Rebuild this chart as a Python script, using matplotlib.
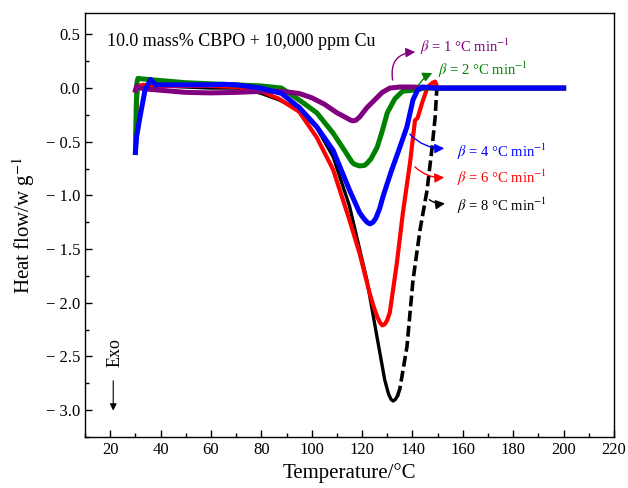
import numpy as np
import matplotlib
matplotlib.use("Agg")
import matplotlib.pyplot as plt
from matplotlib.ticker import MultipleLocator, FuncFormatter

plt.rcParams['font.family'] = ['Liberation Serif', 'DejaVu Serif']
plt.rcParams['mathtext.fontset'] = 'stix'

# heating rate 1 C/min
t1 = [30, 30.5, 32, 35, 40, 50, 60, 70, 80, 88, 95, 100, 105, 110, 114, 115.5,
      116.5, 117.5, 119, 122, 125, 128, 131, 135, 140, 150, 160, 170, 180, 190, 200]
h1 = [-0.02, 0.02, 0.0, -0.01, -0.02, -0.04, -0.045, -0.04, -0.03, -0.03, -0.05,
      -0.09, -0.15, -0.23, -0.28, -0.30, -0.305, -0.30, -0.27, -0.18, -0.11, -0.04,
      0.0, 0.01, 0.01, 0.0, 0.0, 0.0, 0.0, 0.0, 0.0]

# 2 C/min
t2 = [30, 30.3, 30.6, 31, 33, 40, 50, 60, 70, 80, 88, 95, 102, 108.5, 113, 116,
      117, 119, 121, 122, 123.5, 126, 128, 130, 133, 136, 140, 145, 150, 160, 170,
      180, 190, 200]
h2 = [-0.6, -0.2, 0.05, 0.09, 0.085, 0.07, 0.05, 0.04, 0.03, 0.02, 0.0, -0.11,
      -0.23, -0.42, -0.58, -0.69, -0.71, -0.725, -0.72, -0.70, -0.66, -0.55, -0.40,
      -0.23, -0.10, -0.03, -0.02, 0.0, 0.0, 0.0, 0.0, 0.0, 0.0, 0.0]

# 4 C/min
t4 = [30, 30.5, 31.8, 33.8, 36, 38, 40, 50, 60, 65, 70, 80, 88, 95, 102, 108.5,
      115, 119, 120.5, 122, 123.1, 124.3, 125.5, 127, 128.3, 131.5, 135, 137.8,
      140.2, 142, 144, 150, 160, 170, 180, 190, 200]
h4 = [-0.6, -0.45, -0.27, -0.02, 0.08, 0.03, 0.03, 0.03, 0.03, 0.035, 0.03, 0.0,
      -0.05, -0.18, -0.36, -0.58, -0.95, -1.16, -1.21, -1.25, -1.265, -1.25, -1.21,
      -1.12, -1.01, -0.78, -0.55, -0.36, -0.11, -0.02, 0.01, 0.0, 0.0, 0.0, 0.0,
      0.0, 0.0]

# 6 C/min
t6 = [30, 30.5, 31, 33, 40, 50, 60, 70, 80, 87, 95, 102, 108.5, 115, 119, 123,
      124.5, 126, 127, 128, 129, 130, 131, 133.8, 136.2, 139, 141, 142, 143.8,
      146, 148, 149, 150, 160, 170, 180, 190, 200]
h6 = [-0.6, -0.15, 0.02, 0.03, 0.02, 0.02, 0.02, 0.01, -0.03, -0.10, -0.22,
      -0.46, -0.76, -1.23, -1.54, -1.91, -2.03, -2.13, -2.18, -2.21, -2.20, -2.16,
      -2.09, -1.63, -1.16, -0.70, -0.30, -0.28, -0.14, 0.01, 0.05, 0.06, 0.0, 0.0,
      0.0, 0.0, 0.0, 0.0]

# 8 C/min
t8 = [30, 30.5, 31, 33, 40, 50, 60, 70, 75, 80, 87, 95, 102, 108.5, 115, 122,
      126, 129, 130.5, 131.5, 132.3, 133.2, 134, 135, 137.8, 140.2, 143, 145.8,
      147.8, 149, 149.7, 151, 160, 170, 180, 190, 200]
h8 = [-0.45, -0.1, 0.02, 0.02, 0.02, 0.01, 0.0, 0.0, -0.02, -0.05, -0.11, -0.20,
      -0.37, -0.64, -1.10, -1.80, -2.33, -2.72, -2.85, -2.90, -2.915, -2.90, -2.87,
      -2.80, -2.41, -1.79, -1.32, -0.95, -0.55, -0.27, 0.01, 0.0, 0.0, 0.0, 0.0,
      0.0, 0.0]

rates = [1, 2, 4, 6, 8]
colors = {1: '#800080', 2: '#008000', 4: '#0000FF', 6: '#FF0000', 8: '#000000'}

fig = plt.figure(figsize=(6.28, 4.88), dpi=100)
ax = fig.add_axes([0.1354, 0.1045, 0.8423, 0.869])

# black: solid down to the minimum, dashed on the steep return
k = t8.index(134)
ax.plot(t8[:k + 1], h8[:k + 1], color=colors[8], lw=2.4, zorder=2)
ax.plot(t8[k:], h8[k:], color=colors[8], lw=2.6, ls=(0, (3, 1.2)), zorder=2)
ax.plot(t6, h6, color=colors[6], lw=3.0, zorder=3)
ax.plot(t2, h2, color=colors[2], lw=3.6, zorder=4)
ax.plot(t1, h1, color=colors[1], lw=3.6, zorder=5)
ax.plot(t4, h4, color=colors[4], lw=3.6, zorder=6)

ax.set_xlim(10, 220)
ax.set_ylim(-3.25, 0.7)
ax.xaxis.set_major_locator(MultipleLocator(20))
ax.xaxis.set_minor_locator(MultipleLocator(10))
ax.yaxis.set_major_locator(MultipleLocator(0.5))
ax.yaxis.set_minor_locator(MultipleLocator(0.25))


def yfmt(v, pos):
    if v < -1e-9:
        return "\u2212 %.1f" % abs(v)
    return "%.1f" % abs(v)


ax.yaxis.set_major_formatter(FuncFormatter(yfmt))
ax.tick_params(which='both', direction='in', top=False, right=False,
               labelsize=12, width=1.0)
ax.tick_params(which='major', length=5)
ax.tick_params(which='minor', length=3)
for s in ax.spines.values():
    s.set_linewidth(1.0)

ax.set_xlabel("Temperature/\u00b0C", fontsize=15, labelpad=4)
ax.set_ylabel("Heat flow/w g$^{-1}$", fontsize=15, labelpad=6)

ax.text(18.7, 0.43, "10.0 mass% CBPO + 10,000 ppm Cu", fontsize=13,
        va='center', ha='left')

# labels with arrows: (text x, text y, arrow start, arrow end, curvature)
labels = {
    1: (143.0, 0.383, (132.3, 0.05), (142.2, 0.337), -0.6),
    2: (150.1, 0.169, (141.8, 0.0), (148.9, 0.15), -0.2),
    4: (157.7, -0.595, (138.2, -0.41), (153.7, -0.56), 0.25),
    6: (157.7, -0.837, (140.2, -0.716), (153.7, -0.83), 0.25),
    8: (157.7, -1.098, (145.8, -1.024), (154.0, -1.07), 0.25),
}
for r in rates:
    tx, ty, a0, a1, rad = labels[r]
    ax.annotate('', xy=a1, xytext=a0,
                arrowprops=dict(arrowstyle='-|>', color=colors[r], lw=1.0,
                                mutation_scale=14,
                                connectionstyle='arc3,rad=%s' % rad),
                zorder=7)
    ax.text(tx, ty, "$\\beta$ = %d \u00b0C min$^{-1}$" % r, color=colors[r],
            fontsize=10.5, va='center', ha='left')

ax.text(21.9, -2.46, "Exo", rotation=90, fontsize=13, ha='center', va='center')
ax.annotate('', xy=(21.2, -3.03), xytext=(21.2, -2.70),
            arrowprops=dict(arrowstyle='-|>', color='black', lw=0.8,
                            mutation_scale=10))

fig.savefig("out.png", dpi=100)
